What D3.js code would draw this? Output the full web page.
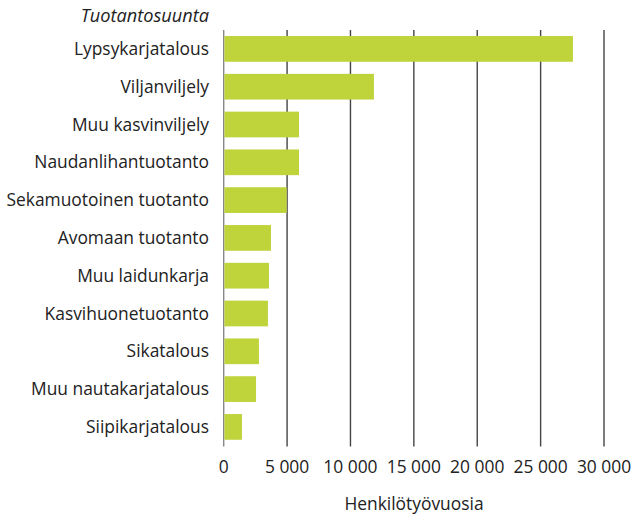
<!DOCTYPE html>
<html><head><meta charset="utf-8">
<script src="https://cdn.jsdelivr.net/npm/d3@7"></script>
<style>body{margin:0;background:#fff}svg{display:block}text{font-family:"Open Sans",sans-serif;fill:#222}</style>
</head><body><svg id="c" width="635" height="516"></svg>
<script>
const categories = ["Lypsykarjatalous","Viljanviljely","Muu kasvinviljely","Naudanlihantuotanto","Sekamuotoinen tuotanto","Avomaan tuotanto","Muu laidunkarja","Kasvihuonetuotanto","Sikatalous","Muu nautakarjatalous","Siipikarjatalous"];
const values = [27550, 11850, 5940, 5940, 4970, 3730, 3570, 3490, 2780, 2550, 1440];
const tickValues = [0, 5000, 10000, 15000, 20000, 25000, 30000];
const categoryTitle = "Tuotantosuunta";
const axisTitle = "Henkilötyövuosia";

const svg = d3.select("#c");
const x = d3.scaleLinear().domain([0, 30000]).range([223.7, 604]);
const y = d3.scaleBand().domain(categories).range([30, 445.8]).paddingInner(0.32).paddingOuter(0.16);
const fmt = d3.formatLocale({decimal: ",", thousands: "\u00a0", grouping: [3], currency: ["", "€"]}).format(",d");
const fs = 17.4;

svg.append("g").selectAll("line").data(tickValues).join("line")
  .attr("x1", d => x(d)).attr("x2", d => x(d))
  .attr("y1", 30).attr("y2", 446.5)
  .attr("stroke", d => d === 0 ? "#888" : "#444").attr("stroke-width", 1.4);

svg.append("g").selectAll("rect").data(categories).join("rect")
  .attr("x", x(0) + 0.7).attr("y", d => y(d))
  .attr("width", (d, i) => x(values[i]) - x(0) - 0.7)
  .attr("height", y.bandwidth())
  .attr("fill", "#bfd33a");

svg.append("g").selectAll("text").data(categories).join("text")
  .attr("x", 209).attr("y", d => y(d) + y.bandwidth() / 2)
  .attr("dy", "0.35em").attr("text-anchor", "end")
  .attr("font-size", fs).text(d => d);

svg.append("text").attr("x", 209).attr("y", 22).attr("text-anchor", "end")
  .attr("font-size", 18.2).attr("font-style", "italic").text(categoryTitle);

svg.append("g").selectAll("text").data(tickValues).join("text")
  .attr("x", d => x(d)).attr("y", 473)
  .attr("text-anchor", "middle").attr("font-size", fs).text(d => fmt(d));

svg.append("text").attr("x", 414).attr("y", 510).attr("text-anchor", "middle")
  .attr("font-size", fs).text(axisTitle);
</script></body></html>
